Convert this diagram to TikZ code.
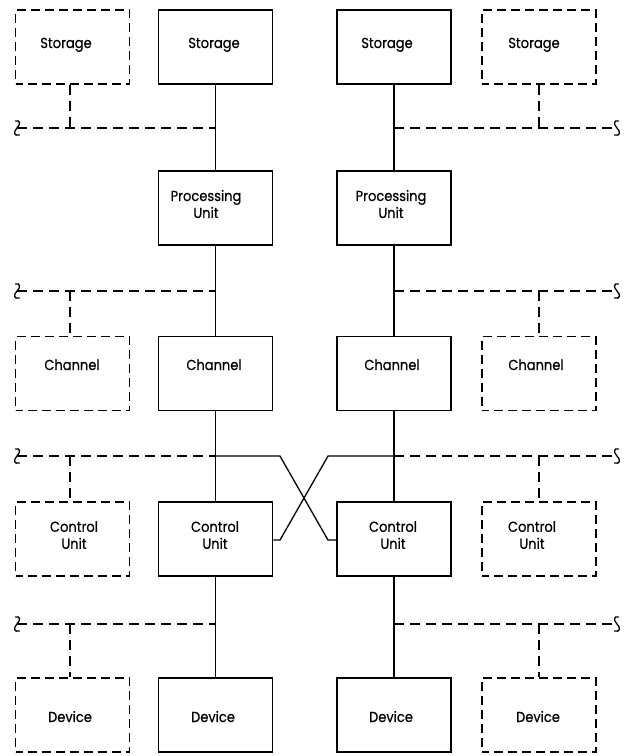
\documentclass[tikz,border=0pt]{standalone}
\usepackage{fontspec}
\setmainfont[FakeStretch=0.9,FakeBold=0.6]{Poppins}
\begin{document}
\begin{tikzpicture}[x=1pt,y=-1pt,
  ubox/.style={draw, line width=1.6pt, minimum width=114pt, minimum height=74pt, inner sep=0pt},
  dubox/.style={ubox, dash pattern=on 9pt off 5pt, dash phase=2pt},
  lbl/.style={font=\fontsize{14.5}{17}\selectfont, inner sep=0pt, align=center},
  link/.style={line width=1.3pt},
  bus/.style={line width=1.3pt, dash pattern=on 10pt off 6pt},
  squig/.pic={\draw[line width=1.3pt, line cap=round] (-1.5,-7) .. controls (3,-8.5) and (4,-4) .. (0,0) .. controls (-4,4) and (-3,8.5) .. (2.5,7);}
]
\useasboundingbox (0,0) rectangle (632,756);
% boxes
\node[dubox] (s1) at (72.5,47) {};
\node[ubox]  (s2) at (215.5,47) {};
\node[ubox]  (s3) at (394,47) {};
\node[dubox] (s4) at (539,47) {};
\node[ubox]  (p2) at (215.5,208) {};
\node[ubox]  (p3) at (394,208) {};
\node[dubox] (c1) at (72.5,373.5) {};
\node[ubox]  (c2) at (215.5,373.5) {};
\node[ubox]  (c3) at (394,373.5) {};
\node[dubox] (c4) at (539,373.5) {};
\node[dubox] (u1) at (72.5,539) {};
\node[ubox]  (u2) at (215.5,539) {};
\node[ubox]  (u3) at (394,539) {};
\node[dubox] (u4) at (539,539) {};
\node[dubox] (d1) at (72.5,715) {};
\node[ubox]  (d2) at (215.5,715) {};
\node[ubox]  (d3) at (394,715) {};
\node[dubox] (d4) at (539,715) {};
% labels
\node[lbl, anchor=base] (ts1) at (66,48) {Storage};
\node[lbl, anchor=base] (ts2) at (214,48) {Storage};
\node[lbl, anchor=base] (ts3) at (387,48) {Storage};
\node[lbl, anchor=base] (ts4) at (534,48) {Storage};
\node[lbl] (tp2) at (206,204) {Processing\\Unit};
\node[lbl] (tp3) at (391,204) {Processing\\Unit};
\node[lbl, anchor=base] (tc1) at (72,370) {Channel};
\node[lbl, anchor=base] (tc2) at (214,370) {Channel};
\node[lbl, anchor=base] (tc3) at (392,370) {Channel};
\node[lbl, anchor=base] (tc4) at (536,370) {Channel};
\node[lbl] (tu1) at (74,535) {Control\\Unit};
\node[lbl] (tu2) at (215,535) {Control\\Unit};
\node[lbl] (tu3) at (393,535) {Control\\Unit};
\node[lbl] (tu4) at (532,535) {Control\\Unit};
\node[lbl, anchor=base] (td1) at (70,722) {Device};
\node[lbl, anchor=base] (td2) at (213,722) {Device};
\node[lbl, anchor=base] (td3) at (391,722) {Device};
\node[lbl, anchor=base] (td4) at (538,722) {Device};
% bus end coordinates
\coordinate (la) at (17,128);  \coordinate (ra) at (617,128);
\coordinate (lb) at (17,291);  \coordinate (rb) at (617,291);
\coordinate (lc) at (17,456);  \coordinate (rc) at (617,456);
\coordinate (ld) at (17,624);  \coordinate (rd) at (617,624);
\coordinate (xa) at (280,456); \coordinate (xb) at (328,540);
\coordinate (xc) at (328,456); \coordinate (xd) at (280,540);
% solid links
\foreach \a/\b in {s2/p2,p2/c2,c2/u2,u2/d2,s3/p3,p3/c3,c3/u3,u3/d3}
  \draw[link] (\a.south) -- (\b.north);
\draw[link] (c2.south |- lc) -- (xa) -- (xb) -- (xb -| u3.west);
\draw[link] (c3.south |- rc) -- (xc) -- (xd) -- (xd -| u2.east);
% dashed buses
\draw[bus] (la) -- (s2.south |- la);
\draw[bus] (s3.south |- ra) -- (ra);
\draw[bus] (lb) -- (p2.south |- lb);
\draw[bus] (p3.south |- rb) -- (rb);
\draw[bus] (lc) -- (c2.south |- lc);
\draw[bus] (c3.south |- rc) -- (rc);
\draw[bus] (ld) -- (u2.south |- ld);
\draw[bus] (u3.south |- rd) -- (rd);
% dashed drops
\draw[bus] ([xshift=-2.5pt]s1.south) -- ([xshift=-2.5pt]s1.south |- la);
\draw[bus] (s4.south) -- (s4.south |- ra);
\draw[bus] ([xshift=-2.5pt]c1.north |- lb) -- ([xshift=-2.5pt]c1.north);
\draw[bus] (c4.north |- rb) -- (c4.north);
\draw[bus] ([xshift=-2.5pt]u1.north |- lc) -- ([xshift=-2.5pt]u1.north);
\draw[bus] (u4.north |- rc) -- (u4.north);
\draw[bus] ([xshift=-2.5pt]d1.north |- ld) -- ([xshift=-2.5pt]d1.north);
\draw[bus] (d4.north |- rd) -- (d4.north);
% squiggles
\pic at (la) {squig}; \pic[xscale=-1] at (ra) {squig};
\pic at (lb) {squig}; \pic[xscale=-1] at (rb) {squig};
\pic at (lc) {squig}; \pic[xscale=-1] at (rc) {squig};
\pic at (ld) {squig}; \pic[xscale=-1] at (rd) {squig};
\end{tikzpicture}
\end{document}
